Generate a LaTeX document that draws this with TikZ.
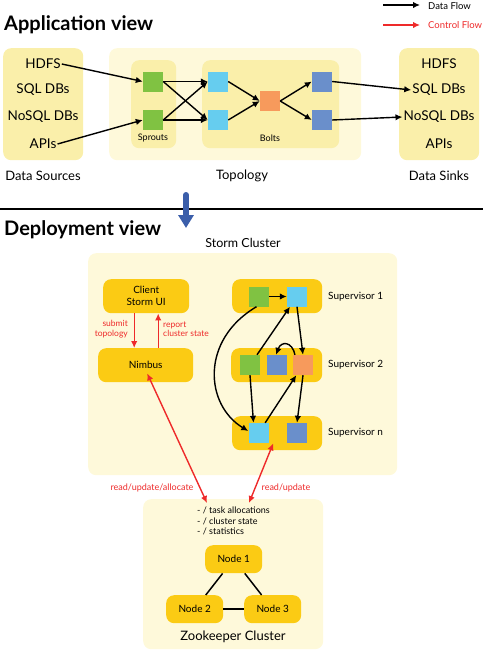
\documentclass[tikz,border=0pt]{standalone}
\usepackage{fontspec}
\setmainfont{Lato}
\usetikzlibrary{arrows.meta}
\definecolor{panelY}{HTML}{FAEFAA}
\definecolor{paleY}{HTML}{FEF9DA}
\definecolor{gold}{HTML}{FBCB14}
\definecolor{sgreen}{HTML}{80C242}
\definecolor{sblue}{HTML}{66CDEF}
\definecolor{sorange}{HTML}{F79A5C}
\definecolor{sdblue}{HTML}{6A8FCB}
\definecolor{ctrlred}{HTML}{EE2A2A}
\definecolor{bigblue}{HTML}{3B5EAA}
\begin{document}
\begin{tikzpicture}[x=1pt,y=-1pt,
  panel/.style={rectangle, rounded corners=8pt, fill=panelY, inner sep=0, anchor=north west},
  palepanel/.style={panel, fill=paleY},
  sq/.style={rectangle, minimum size=20pt, inner sep=0},
  goldbox/.style={rectangle, rounded corners=8pt, fill=gold, inner sep=0, anchor=north west, align=center, font=\fontsize{10}{12}\selectfont},
  flow/.style={draw=black, line width=1.4pt, -{Latex[length=7pt,width=6.5pt]}},
  ctrl/.style={draw=ctrlred, line width=1.4pt, -{Latex[length=7pt,width=6.5pt]}},
  big/.style={font=\fontsize{13.5}{16}\selectfont, inner sep=1pt},
  captxt/.style={font=\fontsize{13}{16}\selectfont, inner sep=1pt},
  small/.style={font=\fontsize{9}{11}\selectfont, inner sep=1pt},
  redlbl/.style={font=\fontsize{9}{10}\selectfont, text=ctrlred, inner sep=1pt},
  suplbl/.style={anchor=west, font=\fontsize{10}{12}\selectfont, inner sep=0},
  title/.style={anchor=base west, font=\bfseries\fontsize{20}{24}\selectfont, inner sep=0}
]
\useasboundingbox (0,0) rectangle (483,651);

% ---------- legend ----------
\coordinate (lgA1) at (383,5);
\coordinate (lgA2) at (420,5);
\coordinate (lgB1) at (383,25);
\coordinate (lgB2) at (420,25);
\draw[flow] (lgA1) -- (lgA2);
\draw[ctrl] (lgB1) -- (lgB2);
\node[anchor=west, font=\fontsize{9.5}{11}\selectfont, inner sep=0] (lgt1) at (428,6) {Data Flow};
\node[anchor=west, font=\fontsize{9.5}{11}\selectfont, inner sep=0, text=ctrlred] (lgt2) at (428,25) {Control Flow};

% ---------- application view ----------
\node[title] (apptitle) at (4,30) {Application view};

\node[panel, minimum width=80pt, minimum height=112pt] (srcbox) at (3,48) {};
\node[palepanel, minimum width=252pt, minimum height=112pt] (topobox) at (109,48) {};
\node[panel, minimum width=45pt, minimum height=88pt] (sproutbox) at (131,60) {};
\node[panel, minimum width=137pt, minimum height=88pt] (boltbox) at (202,60) {};
\node[panel, minimum width=80pt, minimum height=112pt] (sinkbox) at (399,48) {};

\node[big] (hdfsL) at (43,64) {HDFS};
\node[big] (sqlL) at (43,90) {SQL DBs};
\node[big] (nosqlL) at (43,117) {NoSQL DBs};
\node[big] (apisL) at (43,144) {APIs};

\node[big] (hdfsR) at (439,64) {HDFS};
\node[big] (sqlR) at (439,90) {SQL DBs};
\node[big] (nosqlR) at (439,117) {NoSQL DBs};
\node[big] (apisR) at (439,144) {APIs};

\node[captxt] (srccap) at (43,176) {Data Sources};
\node[captxt] (topocap) at (242,176) {Topology};
\node[captxt] (sinkcap) at (439,176) {Data Sinks};

\node[sq, fill=sgreen] (g1) at (153,81.5) {};
\node[sq, fill=sgreen] (g2) at (153,120) {};
\node[sq, fill=sblue] (b1) at (218,81.5) {};
\node[sq, fill=sblue] (b2) at (218,120) {};
\node[sq, fill=sorange] (o1) at (270,101) {};
\node[sq, fill=sdblue] (d1) at (322,81.5) {};
\node[sq, fill=sdblue] (d2) at (322,120) {};

\node[small] (sproutlbl) at (153,138) {Sprouts};
\node[small] (boltlbl) at (270,138) {Bolts};

\draw[flow] (hdfsL.east) -- (g1.west);
\draw[flow] (apisL.east) -- (g2.west);
\draw[flow] (g1.east) -- (b1.west);
\draw[flow] (g1.east) -- (b2.west);
\draw[flow] (g2.east) -- (b1.west);
\draw[flow] (g2.east) -- (b2.west);
\draw[flow] (b1.east) -- (o1.west);
\draw[flow] (b2.east) -- (o1.west);
\draw[flow] (o1.east) -- (d1.west);
\draw[flow] (o1.east) -- (d2.west);
\draw[flow] (d1.east) -- (sqlR.west);
\draw[flow] (d2.east) -- (nosqlR.west);

% ---------- separator ----------
\coordinate (sepL) at (0,209);
\coordinate (sepR) at (483,209);
\draw[line width=1.2pt] (sepL) -- (sepR);
\coordinate (ba1) at (186,195);
\coordinate (ba2) at (186,228);
\draw[bigblue, line width=6pt, line cap=round, -{Triangle[width=15pt,length=13pt]}] (ba1) -- (ba2);

% ---------- deployment view ----------
\node[title] (deptitle) at (4,235) {Deployment view};
\node[font=\fontsize{12.5}{14}\selectfont, inner sep=0] (stormlbl) at (243,243) {Storm Cluster};

\node[palepanel, minimum width=309pt, minimum height=222pt] (stormbox) at (88,253) {};

\node[goldbox, minimum width=86pt, minimum height=34pt] (client) at (103,279) {Client\\Storm UI};
\node[goldbox, minimum width=95pt, minimum height=34pt] (nimbus) at (98,348) {Nimbus};

\node[goldbox, minimum width=90pt, minimum height=34pt] (sup1) at (232,279) {};
\node[goldbox, minimum width=91pt, minimum height=34pt] (sup2) at (231,348) {};
\node[goldbox, minimum width=90pt, minimum height=34pt] (supn) at (232,416) {};

\node[suplbl] (sup1lbl) at (328,297) {Supervisor 1};
\node[suplbl] (sup2lbl) at (328,365) {Supervisor 2};
\node[suplbl] (supnlbl) at (328,433) {Supervisor n};

\node[sq, fill=sgreen] (gs1) at (258.5,296.5) {};
\node[sq, fill=sblue] (bs1) at (297,296.5) {};
\node[sq, fill=sgreen] (gs2) at (250,365) {};
\node[sq, fill=sdblue] (ds2) at (277,365) {};
\node[sq, fill=sorange] (os2) at (303,365) {};
\node[sq, fill=sblue] (bsn) at (258.5,433) {};
\node[sq, fill=sdblue] (dsn) at (297,433) {};

\draw[flow] (gs1.east) -- (bs1.west);
\draw[flow] (bs1.south) -- (os2.north);
\draw[flow] (gs2) -- (bs1);
\draw[flow] (gs2.south) -- ([xshift=-5pt]bsn.north);
\draw[flow] (bsn) -- (os2);
\draw[flow] (os2.south) -- (dsn.north);
\draw[flow] ([xshift=-2pt]gs1.south) .. controls (200,340) and (205,405) .. ([yshift=2pt]bsn.west);
\draw[flow] ([xshift=-8pt]os2.north) .. controls (292,341) and (281,341) .. ([xshift=-1pt]ds2.north);

% control flow
\draw[ctrl] ([xshift=-12pt]client.south) -- ([xshift=-11.5pt]nimbus.north);
\draw[ctrl] ([xshift=12.5pt]nimbus.north) -- ([xshift=12pt]client.south);
\node[redlbl, anchor=east, align=right, font=\fontsize{8.5}{9.5}\selectfont] (submitlbl) at (129,329) {submit\\topology};
\node[redlbl, anchor=west, align=left, font=\fontsize{8.5}{9.5}\selectfont] (reportlbl) at (162,329) {report\\cluster state};

% ---------- zookeeper ----------
\node[palepanel, minimum width=180pt, minimum height=150pt] (zkbox) at (143,499) {};
\coordinate (zkA) at (207,503);
\coordinate (zkB) at (249,503);
\draw[ctrl, {Latex[length=7pt,width=6.5pt]}-{Latex[length=7pt,width=6.5pt]}] ([shift={(1.5,-9)}]nimbus.south) -- (zkA);
\draw[ctrl, {Latex[length=7pt,width=6.5pt]}-{Latex[length=7pt,width=6.5pt]}] ([shift={(-4,-7)}]supn.south) -- (zkB);
\node[redlbl] (rua) at (152,488) {read/update/allocate};
\node[redlbl] (ru) at (286,488) {read/update};

\node[anchor=north west, align=left, font=\fontsize{9}{10.5}\selectfont, inner sep=0] (zktxt) at (197,507) {- / task allocations\\- / cluster state\\- / statistics};

\node[goldbox, minimum width=57pt, minimum height=28pt] (n1) at (205,545) {Node 1};
\node[goldbox, minimum width=57pt, minimum height=28pt] (n2) at (166,595) {Node 2};
\node[goldbox, minimum width=57pt, minimum height=28pt] (n3) at (244,595) {Node 3};
\draw[line width=1.5pt] (n1) -- (n2);
\draw[line width=1.5pt] (n1) -- (n3);
\draw[line width=1.5pt] (n2) -- (n3);
\node[captxt] (zkcap) at (233,637) {Zookeeper Cluster};
\end{tikzpicture}
\end{document}
